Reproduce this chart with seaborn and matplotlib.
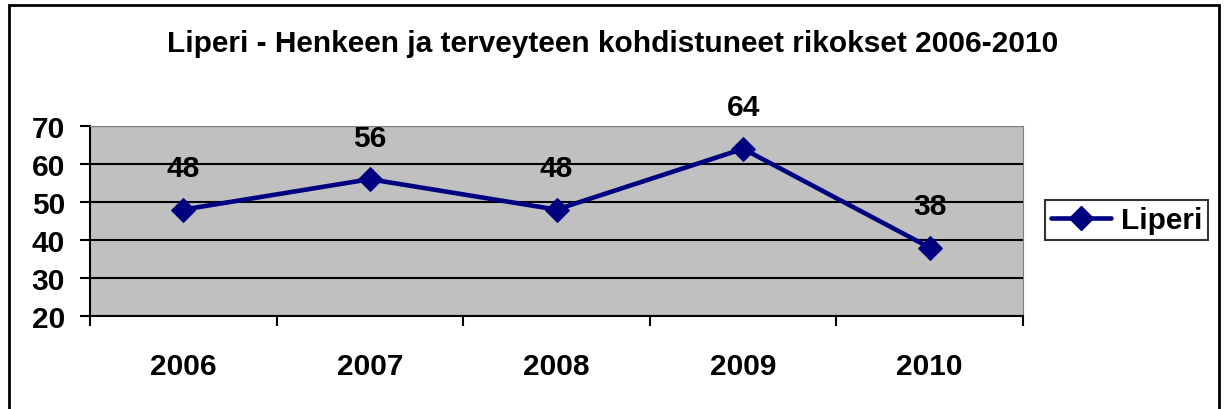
import pandas as pd
import matplotlib.pyplot as plt
import seaborn as sns
from matplotlib.patches import Rectangle
from matplotlib.lines import Line2D

# data
years = ["2006", "2007", "2008", "2009", "2010"]
liperi = [48, 56, 48, 64, 38]
y_ticks = [20, 30, 40, 50, 60, 70]

df = pd.DataFrame({"year": years, "value": liperi})

sns.set_style("white")
plt.rcParams['font.family'] = ['Liberation Sans', 'DejaVu Sans']
plt.rcParams['font.weight'] = 'bold'
plt.rcParams['text.color'] = 'black'
plt.rcParams['xtick.color'] = 'black'
plt.rcParams['ytick.color'] = 'black'

navy = "#000080"
fs = 21.5

fig = plt.figure(figsize=(12.26, 4.10), dpi=100)
ax = fig.add_axes([90/1226, 1 - 317/410, 933/1226, 190/410])
ax.set_facecolor("#C0C0C0")

sns.lineplot(data=df, x="year", y="value", ax=ax, color=navy, linewidth=3.3,
             marker="D", markersize=12.5, markeredgecolor=navy, sort=False)

# labels over the points
for i, v in enumerate(liperi):
    ax.annotate(str(v), (i, v), xytext=(0, 30), textcoords="offset points",
                ha="center", va="center", fontsize=fs, fontweight="bold",
                color="black")

ax.set_xlim(-0.5, 4.5)
ax.set_ylim(20, 70)
ax.set_yticks(y_ticks)
ax.set_xticks(range(len(years)))
ax.set_xticklabels(years)
ax.set_xticks([i - 0.5 for i in range(len(years) + 1)], minor=True)
ax.set_xlabel("")
ax.set_ylabel("")

ax.grid(axis="y", color="black", linewidth=1.5)
ax.grid(axis="x", visible=False)
ax.tick_params(axis="x", which="major", length=0, pad=26, labelsize=fs,
               labelcolor="black")
ax.tick_params(axis="x", which="minor", length=7, width=1.5, color="black",
               direction="out", bottom=True)
ax.tick_params(axis="y", length=7, width=1.5, color="black", pad=11,
               labelsize=fs, left=True, labelcolor="black")
for lab in ax.get_xticklabels() + ax.get_yticklabels():
    lab.set_fontweight("bold")

ax.spines["left"].set_color("black")
ax.spines["bottom"].set_color("black")
ax.spines["left"].set_linewidth(1.5)
ax.spines["bottom"].set_linewidth(1.5)
ax.spines["top"].set_color("#808080")
ax.spines["right"].set_color("#808080")

fig.text(0.5, 1 - 44/410, "Liperi - Henkeen ja terveyteen kohdistuneet rikokset 2006-2010",
         ha="center", va="center", fontsize=fs, fontweight="bold", color="black")

handle = Line2D([], [], color=navy, linewidth=3.3, marker="D", markersize=12.5)
leg = fig.legend([handle], ["Liperi"], loc="center left",
                 bbox_to_anchor=(1045/1226, 1 - 221/410), frameon=True,
                 fancybox=False, edgecolor="black", fontsize=fs,
                 handlelength=2.0, borderpad=0.2, handletextpad=0.35,
                 borderaxespad=0)
leg.get_frame().set_linewidth(1.5)
for t in leg.get_texts():
    t.set_fontweight("bold")
    t.set_color("black")

# outer chart border (bottom edge runs off the picture)
fig.add_artist(Rectangle((9/1226, -0.1), 1210/1226, 1 - 6/410 + 0.1,
                         transform=fig.transFigure, fill=False,
                         edgecolor="black", linewidth=2))

fig.savefig("out.png", dpi=100)
